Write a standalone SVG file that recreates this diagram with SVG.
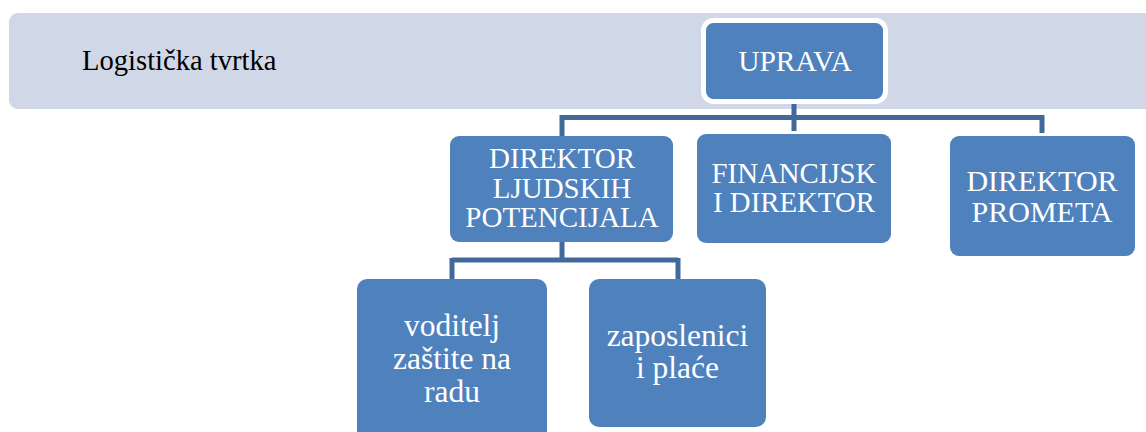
<svg xmlns="http://www.w3.org/2000/svg" width="1146" height="432" viewBox="0 0 1146 432">
<style>
.box{fill:#4f81bd}
.lbl{font-family:"Liberation Serif","Times New Roman",serif;fill:#ffffff;text-anchor:middle}
.conn{fill:none;stroke:#41699a;stroke-width:5}
</style>
<rect x="0" y="0" width="1146" height="432" fill="#ffffff"/>
<g id="band">
<rect x="9" y="13" width="1160" height="96" rx="9" fill="#d0d8e7"/>
<text x="82" y="70" font-family="'Liberation Serif','Times New Roman',serif" font-size="28.6" fill="#000000">Logistička tvrtka</text>
</g>
<g id="connectors">
<path class="conn" d="M794 101 V131 M560 117.5 H1042 M562 115 V136 M1042 115 V133"/>
<path class="conn" d="M562 242 V260 M452 260 H678 M452 258 V279 M678 258 V279"/>
</g>
<g id="uprava">
<rect x="703.5" y="20.5" width="182" height="81" rx="10" class="box" stroke="#ffffff" stroke-width="5"/>
<text class="lbl" x="795" y="71" font-size="29.5">UPRAVA</text>
</g>
<g id="direktor-ljudskih">
<rect x="450" y="136" width="223" height="106" rx="9" class="box"/>
<text class="lbl" x="562" y="168" font-size="29">DIREKTOR</text>
<text class="lbl" x="562" y="198" font-size="29">LJUDSKIH</text>
<text class="lbl" x="562" y="227" font-size="29">POTENCIJALA</text>
</g>
<g id="financijski">
<rect x="697" y="134" width="194" height="109" rx="9" class="box"/>
<text class="lbl" x="794" y="183" font-size="28.8">FINANCIJSK</text>
<text class="lbl" x="794" y="212" font-size="28.8">I DIREKTOR</text>
</g>
<g id="direktor-prometa">
<rect x="950" y="136" width="185" height="120" rx="9" class="box"/>
<text class="lbl" x="1042" y="191" font-size="30">DIREKTOR</text>
<text class="lbl" x="1042" y="222" font-size="30">PROMETA</text>
</g>
<g id="voditelj">
<rect x="357" y="279" width="190" height="170" rx="10" class="box"/>
<text class="lbl" x="452" y="336" font-size="31.5">voditelj</text>
<text class="lbl" x="452" y="369" font-size="31.5">zaštite na</text>
<text class="lbl" x="452" y="402" font-size="31.5">radu</text>
</g>
<g id="zaposlenici">
<rect x="589" y="279" width="177" height="148" rx="10" class="box"/>
<text class="lbl" x="677.5" y="346" font-size="31.5">zaposlenici</text>
<text class="lbl" x="677.5" y="378" font-size="31.5">i plaće</text>
</g>
</svg>
